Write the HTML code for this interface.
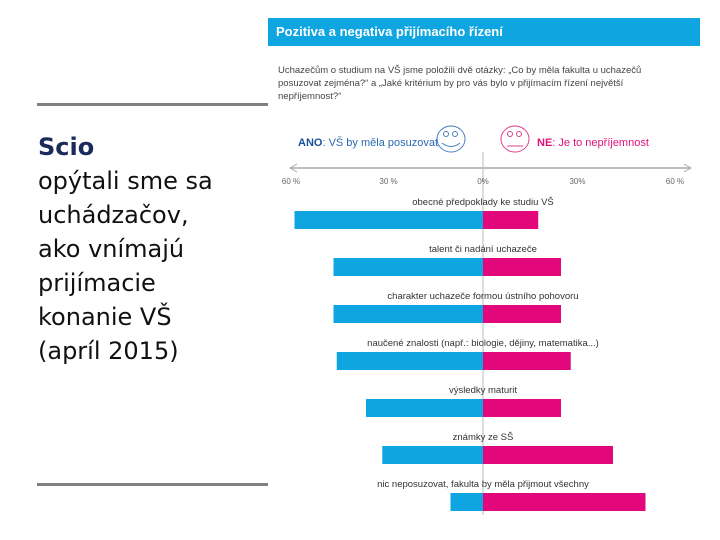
<!DOCTYPE html>
<html><head><meta charset="utf-8"><style>
body{margin:0;width:720px;height:540px;background:#fff;overflow:hidden;position:relative;font-family:"Liberation Sans",sans-serif}
.rule{position:absolute;left:37px;width:231px;height:3px;background:#808080}
#side{position:absolute;left:38px;top:130px;font-family:"DejaVu Sans",sans-serif;font-size:24px;line-height:34px;color:#111}
</style></head><body>
<div class="rule" style="top:103px"></div>
<div class="rule" style="top:483px"></div>
<div id="side"><b style="color:#1b2a5a">Scio</b><br>opýtali sme sa<br>uchádzačov,<br>ako vnímajú<br>prijímacie<br>konanie VŠ<br>(apríl 2015)</div>
<svg id="chart" width="720" height="540" style="position:absolute;left:0;top:0">
<rect x="268" y="18" width="432" height="28" fill="#0ea5e0"/>
<text x="276" y="36" fill="#fff" font-weight="bold" font-size="13">Pozitiva a negativa přijímacího řízení</text>
<g font-size="9.5" fill="#444">
<text x="278" y="73">Uchazečům o studium na VŠ jsme položili dvě otázky: „Co by měla fakulta u uchazečů</text>
<text x="278" y="86">posuzovat zejména?“ a „Jaké kritérium by pro vás bylo v přijímacím řízení největší</text>
<text x="278" y="99">nepříjemnost?“</text></g>
<text x="298" y="146" font-size="11" fill="#2a6ab0"><tspan font-weight="bold" fill="#1a4f9a">ANO</tspan>: VŠ by měla posuzovat</text>
<g fill="none" stroke="#4a7fc0"><ellipse cx="451" cy="139" rx="14" ry="13"/><circle cx="446" cy="134" r="2.5"/><circle cx="455" cy="134" r="2.5"/><path d="M442 143 Q451 150 460 143"/></g>
<g fill="none" stroke="#e0408a"><ellipse cx="515" cy="139" rx="14" ry="13"/><circle cx="510" cy="134" r="2.5"/><circle cx="519" cy="134" r="2.5"/><path d="M507 146 H523"/></g>
<text x="537" y="146" font-size="11" fill="#e0107a"><tspan font-weight="bold">NE</tspan>: Je to nepříjemnost</text>
<line x1="291" y1="168" x2="690" y2="168" stroke="#aaa" stroke-width="1.5"/>
<path d="M297 164 L290 168 L297 172 M684 164 L691 168 L684 172" stroke="#aaa" fill="none"/>
<line x1="483" y1="152" x2="483" y2="515" stroke="#bbb" stroke-width="1"/>
<g id="ticks" font-size="8" fill="#666" text-anchor="middle"></g>
<g id="bars"></g>
</svg>
<script>
const categories=["obecné předpoklady ke studiu VŠ","talent či nadání uchazeče","charakter uchazeče formou ústního pohovoru","naučené znalosti (např.: biologie, dějiny, matematika...)","výsledky maturit","známky ze SŠ","nic neposuzovat, fakulta by měla přijmout všechny"];
const anoValues=[58,46,46,45,36,31,10];
const neValues=[17,24,24,27,24,40,50];
const tickValues=[-60,-30,0,30,60];
const tickLabels=["60 %","30 %","0%","30%","60 %"];
const NS="http://www.w3.org/2000/svg";
const cx=483,scale=3.25;
function x(v){return cx+v*scale;}
function y(i){return 220+i*47;}
function mk(t,a,p){const e=document.createElementNS(NS,t);for(const k in a)e.setAttribute(k,a[k]);p.appendChild(e);return e;}
const tg=document.getElementById('ticks');
tickValues.forEach((v,i)=>{const t=mk('text',{x:x(v)+(v<0?3:v>0?-3:0),y:184},tg);t.textContent=tickLabels[i];

});
const bg=document.getElementById('bars');
categories.forEach((c,i)=>{const yc=y(i);
const a=mk('rect',{x:x(-anoValues[i]),y:yc-9,width:anoValues[i]*scale,height:18,fill:'#0ea5e0'},bg);


const n=mk('rect',{x:cx,y:yc-9,width:neValues[i]*scale,height:18,fill:'#e2077a'},bg);


const t=mk('text',{x:cx,y:yc-15,'font-size':'9.5',fill:'#333','text-anchor':'middle'},bg);t.textContent=c;

});
</script>
</body></html>
